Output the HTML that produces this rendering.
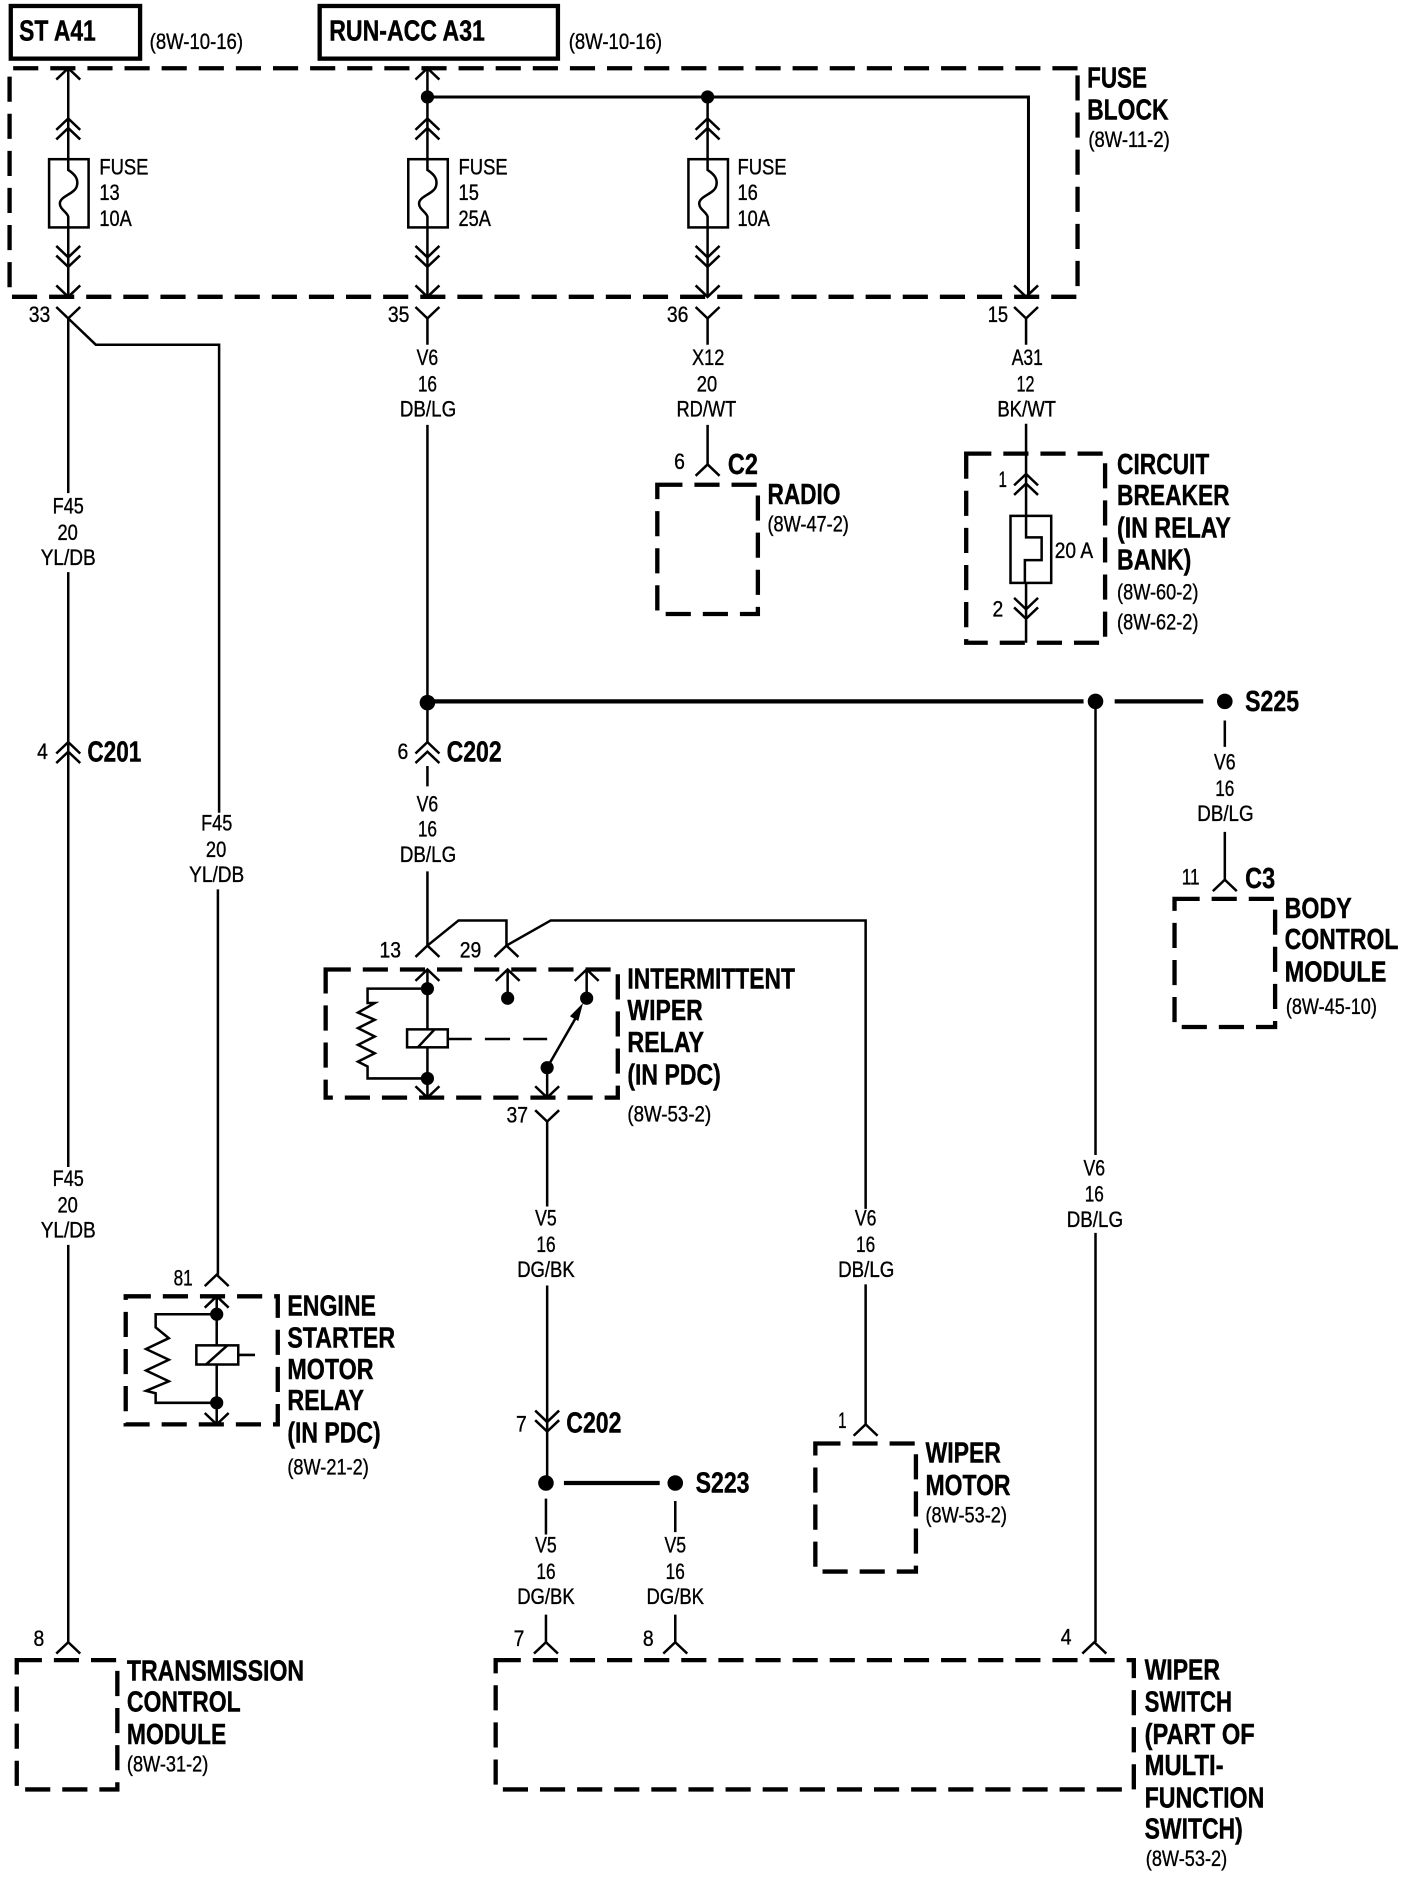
<!DOCTYPE html>
<html><head><meta charset="utf-8"><style>
html,body{margin:0;padding:0;background:#fff}
svg{display:block}
text{font-family:"Liberation Sans",sans-serif;fill:#000}
.s{font-size:18.5px;stroke:#000;stroke-width:.3}
.b{font-size:24px;font-weight:bold;stroke:#000;stroke-width:.35}
.l{fill:none;stroke:#000;stroke-width:2.1}
.t{fill:none;stroke:#000;stroke-width:3.6}
.d{fill:none;stroke:#000;stroke-width:3.6;stroke-dasharray:21 10}
</style></head><body>
<svg width="1408" height="1878" viewBox="0 0 1176 1569" preserveAspectRatio="none" xmlns="http://www.w3.org/2000/svg">
<defs>
<path id="u" class="l" d="M-10 9.5L0 0L10 9.5"/>
<path id="n" class="l" d="M-10 -9.5L0 0L10 -9.5"/>
<g id="uu"><use href="#u"/><use href="#u" y="8"/></g>
<g id="nn"><use href="#n"/><use href="#n" y="8"/></g>
<g id="fuse"><rect class="l" x="-16" y="133" width="33" height="57"/><path class="l" d="M0 107V142C6 146 9 150 7 156C5 162 -7 164 -7 170C-7 175 -1 177 0 181V248"/></g>
</defs>

<rect class="t" x="9" y="5" width="108" height="44"/>
<rect class="t" x="267" y="5" width="199" height="44"/>

<path class="d" d="M900 57H8V248H900V57"/>
<path class="d" d="M272 810H516V917H272Z"/>
<path class="d" d="M105 1083H232V1190H105Z"/>
<path class="d" d="M807 379H923V537H807Z"/>
<path class="d" d="M549 405H633V513H549Z"/>
<path class="d" d="M981 751H1065V858H981Z"/>
<path class="d" d="M681 1206H765V1313H681Z"/>
<path class="d" d="M14 1387H98V1495H14Z"/>
<path class="d" d="M414 1387H947V1495H414Z"/>

<!-- fuses -->
<path class="l" d="M57 57V107M357 57V107M591 81V107"/>
<use href="#fuse" x="57"/><use href="#fuse" x="357"/><use href="#fuse" x="591"/>
<use href="#u" x="57" y="57"/><use href="#u" x="357" y="57"/>
<use href="#uu" x="57" y="99"/><use href="#uu" x="357" y="99"/><use href="#uu" x="591" y="99"/>
<use href="#nn" x="57" y="215"/><use href="#nn" x="357" y="215"/><use href="#nn" x="591" y="215"/>
<use href="#n" x="57" y="248"/><use href="#n" x="357" y="248"/><use href="#n" x="591" y="248"/><use href="#n" x="857" y="248"/>
<path class="l" style="stroke-width:2.5" d="M357 81H859V248"/>
<circle cx="357" cy="81" r="5.5"/><circle cx="591" cy="81" r="5.5"/>

<!-- Y connectors below fuse block -->
<use href="#n" x="57" y="266"/><use href="#n" x="357" y="266"/><use href="#n" x="591" y="266"/><use href="#n" x="857" y="266"/>

<!-- wires -->
<path class="l" d="M57 266V412M57 478V975M57 1040V1372"/>
<path class="l" d="M57 266L80 288H183V679M182 743V1065"/>
<path class="l" d="M357 266V288M357 355V620M357 640V657M357 728V790"/>
<path class="l" d="M591 266V288M591 355V388"/>
<path class="l" d="M857 266V288M857 354V431M857 487V537"/>
<path class="l" d="M857 431V449H870V468H856V487"/>
<rect class="l" x="844" y="431" width="34" height="56"/>
<use href="#uu" x="857" y="396"/><use href="#nn" x="857" y="509"/>
<use href="#u" x="591" y="388"/>
<use href="#uu" x="57" y="620"/><use href="#uu" x="357" y="620"/>

<!-- splice -->
<path class="t" d="M357 586H905M931 586H1005"/>
<circle cx="357" cy="587" r="6.5"/><circle cx="915" cy="586" r="6.5"/><circle cx="1023" cy="586" r="6.5"/>
<path class="l" d="M915 586V965M915 1030V1372M1023 602V624M1023 695V735"/>
<use href="#u" x="1023" y="735"/>
<use href="#u" x="914" y="1372"/>

<!-- intermittent relay -->
<path class="l" d="M357 790L383 769H423V790L460 769H723V1010M723 1073V1190"/>
<use href="#u" x="357" y="790"/><use href="#u" x="423" y="790"/>
<use href="#u" x="357" y="810"/><use href="#u" x="424" y="810"/><use href="#u" x="490" y="810"/>
<path class="l" d="M357 810V860M357 875V917M424 810V834M490 810V834"/>
<path class="l" d="M357 826H307V838H313L299 846L313 852L299 859L313 866L299 873L313 880L299 887L307 891V901H357"/>
<circle cx="357" cy="826" r="5.5"/><circle cx="357" cy="901" r="5.5"/>
<rect class="l" x="340" y="860" width="34" height="15"/><path class="l" d="M349 875L363 860"/>
<path class="l" d="M374 868H394M405 868H426M437 868H457"/>
<circle cx="424" cy="834" r="5.5"/><circle cx="490" cy="834" r="5.5"/><circle cx="457" cy="892" r="5.5"/>
<path class="l" d="M457 892L484 845"/><path d="M487 838L476 849L483 853Z"/>
<path class="l" d="M457 892V917"/>
<use href="#n" x="357" y="917"/><use href="#n" x="457" y="917"/><use href="#n" x="457" y="937"/>
<path class="l" d="M457 937V1008M457 1074V1239"/>
<use href="#nn" x="457" y="1188"/>
<circle cx="456" cy="1239" r="6.5"/><circle cx="564" cy="1239" r="6.5"/>
<path class="t" d="M471 1239H551"/>
<path class="l" d="M456 1252V1282M456 1349V1372M564 1254V1280M564 1349V1372"/>
<use href="#u" x="456" y="1372"/><use href="#u" x="564" y="1372"/>
<use href="#u" x="723" y="1190"/>
<use href="#u" x="57" y="1372"/>

<!-- starter relay -->
<use href="#u" x="181" y="1065"/><use href="#u" x="181" y="1083"/>
<path class="l" d="M181 1083V1124M181 1140V1190"/>
<path class="l" d="M181 1098H130V1109L141 1118L122 1127L141 1136L122 1145L141 1154L122 1162L130 1164V1172H181"/>
<circle cx="181" cy="1098" r="5.5"/><circle cx="181" cy="1172" r="5.5"/>
<rect class="l" x="164" y="1124" width="35" height="16"/><path class="l" d="M172 1140L190 1124M199 1132H213"/>
<use href="#n" x="181" y="1190"/>

<!-- bold labels -->
<g class="b">
<text x="16" y="34" textLength="64" lengthAdjust="spacingAndGlyphs">ST A41</text>
<text x="275" y="34" textLength="130" lengthAdjust="spacingAndGlyphs">RUN-ACC A31</text>
<text x="908" y="73" textLength="50" lengthAdjust="spacingAndGlyphs">FUSE</text>
<text x="908" y="100" textLength="68" lengthAdjust="spacingAndGlyphs">BLOCK</text>
<text x="608" y="396" textLength="25" lengthAdjust="spacingAndGlyphs">C2</text>
<text x="641" y="421" textLength="61" lengthAdjust="spacingAndGlyphs">RADIO</text>
<text x="933" y="396" textLength="77" lengthAdjust="spacingAndGlyphs">CIRCUIT</text>
<text x="933" y="422" textLength="94" lengthAdjust="spacingAndGlyphs">BREAKER</text>
<text x="933" y="449" textLength="95" lengthAdjust="spacingAndGlyphs">(IN RELAY</text>
<text x="933" y="476" textLength="62" lengthAdjust="spacingAndGlyphs">BANK)</text>
<text x="1040" y="594" textLength="45" lengthAdjust="spacingAndGlyphs">S225</text>
<text x="73" y="636" textLength="45" lengthAdjust="spacingAndGlyphs">C201</text>
<text x="373" y="636" textLength="46" lengthAdjust="spacingAndGlyphs">C202</text>
<text x="1040" y="742" textLength="25" lengthAdjust="spacingAndGlyphs">C3</text>
<text x="1073" y="767" textLength="56" lengthAdjust="spacingAndGlyphs">BODY</text>
<text x="1073" y="793" textLength="95" lengthAdjust="spacingAndGlyphs">CONTROL</text>
<text x="1073" y="820" textLength="85" lengthAdjust="spacingAndGlyphs">MODULE</text>
<text x="524" y="826" textLength="140" lengthAdjust="spacingAndGlyphs">INTERMITTENT</text>
<text x="524" y="852" textLength="63" lengthAdjust="spacingAndGlyphs">WIPER</text>
<text x="524" y="879" textLength="64" lengthAdjust="spacingAndGlyphs">RELAY</text>
<text x="524" y="906" textLength="78" lengthAdjust="spacingAndGlyphs">(IN PDC)</text>
<text x="240" y="1099" textLength="74" lengthAdjust="spacingAndGlyphs">ENGINE</text>
<text x="240" y="1126" textLength="90" lengthAdjust="spacingAndGlyphs">STARTER</text>
<text x="240" y="1152" textLength="72" lengthAdjust="spacingAndGlyphs">MOTOR</text>
<text x="240" y="1178" textLength="64" lengthAdjust="spacingAndGlyphs">RELAY</text>
<text x="240" y="1205" textLength="78" lengthAdjust="spacingAndGlyphs">(IN PDC)</text>
<text x="473" y="1197" textLength="46" lengthAdjust="spacingAndGlyphs">C202</text>
<text x="581" y="1247" textLength="45" lengthAdjust="spacingAndGlyphs">S223</text>
<text x="773" y="1222" textLength="63" lengthAdjust="spacingAndGlyphs">WIPER</text>
<text x="773" y="1249" textLength="71" lengthAdjust="spacingAndGlyphs">MOTOR</text>
<text x="106" y="1404" textLength="148" lengthAdjust="spacingAndGlyphs">TRANSMISSION</text>
<text x="106" y="1430" textLength="95" lengthAdjust="spacingAndGlyphs">CONTROL</text>
<text x="106" y="1457" textLength="83" lengthAdjust="spacingAndGlyphs">MODULE</text>
<text x="956" y="1403" textLength="63" lengthAdjust="spacingAndGlyphs">WIPER</text>
<text x="956" y="1430" textLength="73" lengthAdjust="spacingAndGlyphs">SWITCH</text>
<text x="956" y="1457" textLength="92" lengthAdjust="spacingAndGlyphs">(PART OF</text>
<text x="956" y="1483" textLength="66" lengthAdjust="spacingAndGlyphs">MULTI-</text>
<text x="956" y="1510" textLength="100" lengthAdjust="spacingAndGlyphs">FUNCTION</text>
<text x="956" y="1536" textLength="82" lengthAdjust="spacingAndGlyphs">SWITCH)</text>
</g>

<!-- small labels -->
<g class="s">
<text x="125" y="41" textLength="78" lengthAdjust="spacingAndGlyphs">(8W-10-16)</text>
<text x="475" y="41" textLength="78" lengthAdjust="spacingAndGlyphs">(8W-10-16)</text>
<text x="909" y="123" textLength="68" lengthAdjust="spacingAndGlyphs">(8W-11-2)</text>
<text x="83" y="146" textLength="41" lengthAdjust="spacingAndGlyphs">FUSE</text>
<text x="83" y="167" textLength="17" lengthAdjust="spacingAndGlyphs">13</text>
<text x="83" y="189" textLength="27" lengthAdjust="spacingAndGlyphs">10A</text>
<text x="383" y="146" textLength="41" lengthAdjust="spacingAndGlyphs">FUSE</text>
<text x="383" y="167" textLength="17" lengthAdjust="spacingAndGlyphs">15</text>
<text x="383" y="189" textLength="27" lengthAdjust="spacingAndGlyphs">25A</text>
<text x="616" y="146" textLength="41" lengthAdjust="spacingAndGlyphs">FUSE</text>
<text x="616" y="167" textLength="17" lengthAdjust="spacingAndGlyphs">16</text>
<text x="616" y="189" textLength="27" lengthAdjust="spacingAndGlyphs">10A</text>
<text x="24" y="269" textLength="18" lengthAdjust="spacingAndGlyphs">33</text>
<text x="324" y="269" textLength="18" lengthAdjust="spacingAndGlyphs">35</text>
<text x="557" y="269" textLength="18" lengthAdjust="spacingAndGlyphs">36</text>
<text x="825" y="269" textLength="17" lengthAdjust="spacingAndGlyphs">15</text>
<text x="348" y="305" textLength="18" lengthAdjust="spacingAndGlyphs">V6</text>
<text x="349" y="327" textLength="16" lengthAdjust="spacingAndGlyphs">16</text>
<text x="334" y="348" textLength="47" lengthAdjust="spacingAndGlyphs">DB/LG</text>
<text x="578" y="305" textLength="27" lengthAdjust="spacingAndGlyphs">X12</text>
<text x="582" y="327" textLength="17" lengthAdjust="spacingAndGlyphs">20</text>
<text x="565" y="348" textLength="50" lengthAdjust="spacingAndGlyphs">RD/WT</text>
<text x="845" y="305" textLength="26" lengthAdjust="spacingAndGlyphs">A31</text>
<text x="849" y="327" textLength="15" lengthAdjust="spacingAndGlyphs">12</text>
<text x="833" y="348" textLength="49" lengthAdjust="spacingAndGlyphs">BK/WT</text>
<text x="563" y="392" textLength="9" lengthAdjust="spacingAndGlyphs">6</text>
<text x="641" y="444" textLength="68" lengthAdjust="spacingAndGlyphs">(8W-47-2)</text>
<text x="834" y="407" textLength="7" lengthAdjust="spacingAndGlyphs">1</text>
<text x="829" y="515" textLength="9" lengthAdjust="spacingAndGlyphs">2</text>
<text x="881" y="466" textLength="32" lengthAdjust="spacingAndGlyphs">20 A</text>
<text x="933" y="501" textLength="68" lengthAdjust="spacingAndGlyphs">(8W-60-2)</text>
<text x="933" y="526" textLength="68" lengthAdjust="spacingAndGlyphs">(8W-62-2)</text>
<text x="31" y="634" textLength="9" lengthAdjust="spacingAndGlyphs">4</text>
<text x="332" y="634" textLength="9" lengthAdjust="spacingAndGlyphs">6</text>
<text x="44" y="429" textLength="26" lengthAdjust="spacingAndGlyphs">F45</text>
<text x="48" y="451" textLength="17" lengthAdjust="spacingAndGlyphs">20</text>
<text x="34" y="472" textLength="46" lengthAdjust="spacingAndGlyphs">YL/DB</text>
<text x="168" y="694" textLength="26" lengthAdjust="spacingAndGlyphs">F45</text>
<text x="172" y="716" textLength="17" lengthAdjust="spacingAndGlyphs">20</text>
<text x="158" y="737" textLength="46" lengthAdjust="spacingAndGlyphs">YL/DB</text>
<text x="348" y="678" textLength="18" lengthAdjust="spacingAndGlyphs">V6</text>
<text x="349" y="699" textLength="16" lengthAdjust="spacingAndGlyphs">16</text>
<text x="334" y="720" textLength="47" lengthAdjust="spacingAndGlyphs">DB/LG</text>
<text x="1014" y="643" textLength="18" lengthAdjust="spacingAndGlyphs">V6</text>
<text x="1015" y="665" textLength="16" lengthAdjust="spacingAndGlyphs">16</text>
<text x="1000" y="686" textLength="47" lengthAdjust="spacingAndGlyphs">DB/LG</text>
<text x="987" y="739" textLength="15" lengthAdjust="spacingAndGlyphs">11</text>
<text x="1074" y="847" textLength="76" lengthAdjust="spacingAndGlyphs">(8W-45-10)</text>
<text x="317" y="800" textLength="18" lengthAdjust="spacingAndGlyphs">13</text>
<text x="384" y="800" textLength="18" lengthAdjust="spacingAndGlyphs">29</text>
<text x="524" y="937" textLength="70" lengthAdjust="spacingAndGlyphs">(8W-53-2)</text>
<text x="423" y="938" textLength="18" lengthAdjust="spacingAndGlyphs">37</text>
<text x="44" y="991" textLength="26" lengthAdjust="spacingAndGlyphs">F45</text>
<text x="48" y="1013" textLength="17" lengthAdjust="spacingAndGlyphs">20</text>
<text x="34" y="1034" textLength="46" lengthAdjust="spacingAndGlyphs">YL/DB</text>
<text x="905" y="982" textLength="18" lengthAdjust="spacingAndGlyphs">V6</text>
<text x="906" y="1004" textLength="16" lengthAdjust="spacingAndGlyphs">16</text>
<text x="891" y="1025" textLength="47" lengthAdjust="spacingAndGlyphs">DB/LG</text>
<text x="447" y="1024" textLength="18" lengthAdjust="spacingAndGlyphs">V5</text>
<text x="448" y="1046" textLength="16" lengthAdjust="spacingAndGlyphs">16</text>
<text x="432" y="1067" textLength="48" lengthAdjust="spacingAndGlyphs">DG/BK</text>
<text x="714" y="1024" textLength="18" lengthAdjust="spacingAndGlyphs">V6</text>
<text x="715" y="1046" textLength="16" lengthAdjust="spacingAndGlyphs">16</text>
<text x="700" y="1067" textLength="47" lengthAdjust="spacingAndGlyphs">DB/LG</text>
<text x="145" y="1074" textLength="16" lengthAdjust="spacingAndGlyphs">81</text>
<text x="240" y="1232" textLength="68" lengthAdjust="spacingAndGlyphs">(8W-21-2)</text>
<text x="431" y="1196" textLength="9" lengthAdjust="spacingAndGlyphs">7</text>
<text x="700" y="1193" textLength="7" lengthAdjust="spacingAndGlyphs">1</text>
<text x="773" y="1272" textLength="68" lengthAdjust="spacingAndGlyphs">(8W-53-2)</text>
<text x="447" y="1297" textLength="18" lengthAdjust="spacingAndGlyphs">V5</text>
<text x="448" y="1319" textLength="16" lengthAdjust="spacingAndGlyphs">16</text>
<text x="432" y="1340" textLength="48" lengthAdjust="spacingAndGlyphs">DG/BK</text>
<text x="555" y="1297" textLength="18" lengthAdjust="spacingAndGlyphs">V5</text>
<text x="556" y="1319" textLength="16" lengthAdjust="spacingAndGlyphs">16</text>
<text x="540" y="1340" textLength="48" lengthAdjust="spacingAndGlyphs">DG/BK</text>
<text x="429" y="1375" textLength="9" lengthAdjust="spacingAndGlyphs">7</text>
<text x="537" y="1375" textLength="9" lengthAdjust="spacingAndGlyphs">8</text>
<text x="886" y="1374" textLength="9" lengthAdjust="spacingAndGlyphs">4</text>
<text x="28" y="1375" textLength="9" lengthAdjust="spacingAndGlyphs">8</text>
<text x="106" y="1480" textLength="68" lengthAdjust="spacingAndGlyphs">(8W-31-2)</text>
<text x="957" y="1559" textLength="68" lengthAdjust="spacingAndGlyphs">(8W-53-2)</text>
</g>
</svg>
</body></html>
